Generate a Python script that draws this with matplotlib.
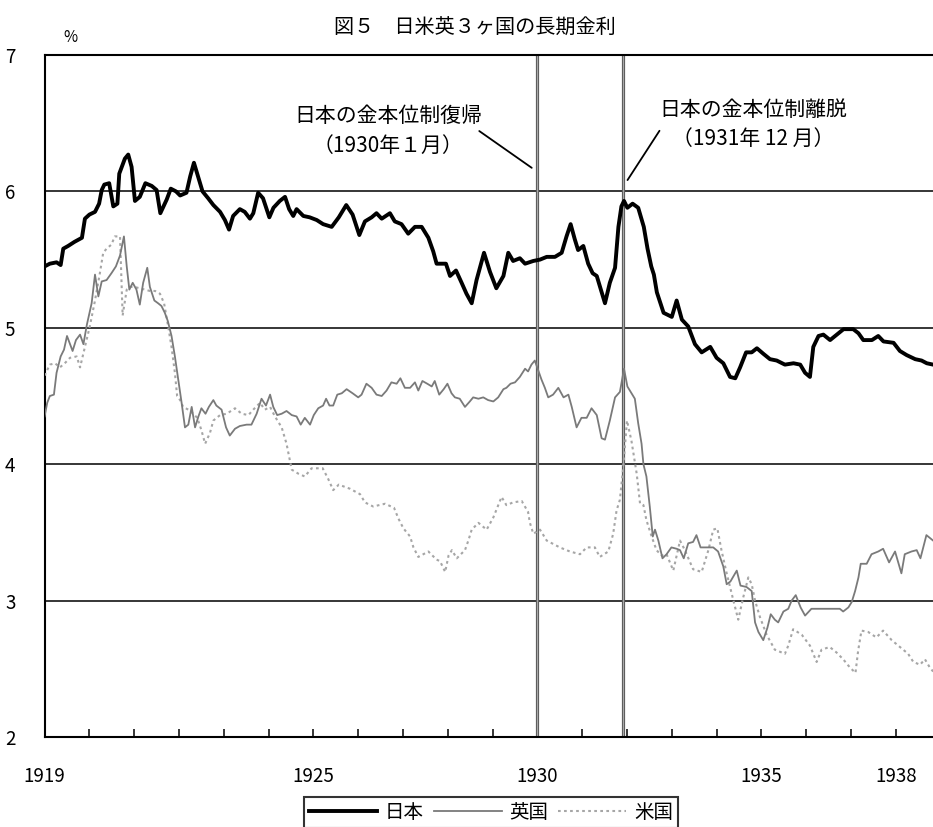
import matplotlib
matplotlib.use("Agg")
import matplotlib.pyplot as plt
import numpy as np

plt.rcParams["font.family"] = ["Noto Sans CJK JP", "DejaVu Sans"]

# months counted from Jan 1919
jp_month = [0, 1.4, 3.2, 4.3, 5.0, 6.3, 8, 10, 10.8, 12, 13.5, 14.6, 15.3, 16, 17.3,
            18.4, 19.5, 20, 21.5, 22.4, 23.3, 24.2, 25.5, 27, 28.7, 30, 31, 32.7, 33.8,
            35.2, 36.3, 38, 39, 40, 41.2, 42.3, 43.8, 45.2, 47, 48.3, 49.4, 50.5, 52.3,
            53.6, 55, 55.9, 57.2, 58.5, 60.2, 61.3, 63, 64.4, 65.5, 66.6, 67.5, 69.3,
            71, 72.9, 74.6, 76.9, 78.8, 80.8, 82.5, 84.3, 85.8, 87.6, 88.9, 90.3, 92.5,
            93.8, 95.6, 97.4, 99.2, 101, 102.8, 104.1, 105, 107.5, 108.6, 110.2, 111.7,
            113, 114.4, 115.7, 117.7, 119.3, 121, 122.9, 124.2, 125.5, 127.3, 128.7,
            130.9, 132.7, 134.5, 136.7, 138.5, 139.8, 140.9, 142, 142.9, 144.3, 145.6,
            146.8, 147.9, 149, 150.1, 151.4, 152.8, 153.7, 154.5, 155.2, 156.1, 157.5,
            159, 160.5, 161.5, 162.5, 163.2, 164, 165.8, 168, 169.3, 170.7, 172.4,
            174.2, 176, 178.3, 180, 181.8, 183.6, 185, 186.3, 187.9, 189.4, 190.8,
            192.5, 194.3, 196.1, 198.3, 200.6, 202.4, 203.7, 205, 205.9, 207.3, 208.6,
            210.4, 212.2, 214, 216.6, 218, 219.3, 221.6, 223.3, 224.7, 227.4, 229.1,
            230.9, 233.2, 234.9, 236.3, 238]
jp_rate = [5.45, 5.47, 5.48, 5.46, 5.58, 5.60, 5.63, 5.66, 5.80, 5.83, 5.85, 5.91, 6.01,
           6.05, 6.06, 5.89, 5.91, 6.13, 6.24, 6.27, 6.18, 5.93, 5.96, 6.06, 6.04, 6.01,
           5.84, 5.94, 6.02, 6.00, 5.97, 5.99, 6.11, 6.21, 6.10, 6.00, 5.95, 5.90, 5.85,
           5.79, 5.72, 5.82, 5.87, 5.85, 5.80, 5.84, 5.99, 5.95, 5.81, 5.88, 5.93, 5.96,
           5.87, 5.82, 5.87, 5.82, 5.81, 5.79, 5.76, 5.74, 5.81, 5.90, 5.83, 5.68, 5.78,
           5.81, 5.84, 5.80, 5.84, 5.78, 5.76, 5.69, 5.74, 5.74, 5.66, 5.56, 5.47, 5.47,
           5.38, 5.42, 5.33, 5.25, 5.18, 5.35, 5.55, 5.41, 5.29, 5.38, 5.55, 5.49, 5.51,
           5.47, 5.49, 5.50, 5.52, 5.52, 5.55, 5.67, 5.76, 5.65, 5.57, 5.60, 5.47, 5.40,
           5.38, 5.28, 5.18, 5.33, 5.44, 5.74, 5.89, 5.93, 5.88, 5.91, 5.88, 5.74, 5.58,
           5.45, 5.39, 5.26, 5.11, 5.08, 5.20, 5.06, 5.01, 4.88, 4.82, 4.86, 4.78, 4.74,
           4.64, 4.63, 4.71, 4.82, 4.82, 4.85, 4.81, 4.77, 4.76, 4.73, 4.74, 4.73, 4.67,
           4.64, 4.86, 4.94, 4.95, 4.91, 4.95, 4.99, 4.99, 4.96, 4.91, 4.91, 4.94, 4.90,
           4.89, 4.83, 4.80, 4.77, 4.76, 4.74, 4.73]

uk_month = [0, 0.7, 1.4, 2.5, 3.2, 4.3, 5.2, 6, 7.5, 8.4, 9.5, 10.4, 11.3, 12.6, 13.5,
            14.4, 15.3, 16.6, 17.9, 19.1, 20.2, 21.25, 22, 22.7, 23.6, 24.6, 25.5, 26.4,
            27.5, 28.2, 29.4, 30.4, 31.3, 32.2, 33, 34, 34.9, 35.8, 36.7, 37.6, 38.5,
            39.4, 40.3, 41.2, 42, 43.1, 44, 45.2, 46, 47.4, 48.6, 49.6, 51, 52.3, 54.1,
            55.4, 56.8, 58.1, 59.3, 60.4, 61.25, 62.3, 63.5, 64.8, 66.2, 67.5, 68.6,
            69.7, 71.1, 72.1, 73.3, 74.6, 75.4, 76.3, 77.3, 78.4, 79.6, 80.9, 82.5, 84,
            84.9, 86.2, 87.6, 88.9, 90.3, 91.6, 92.9, 94.3, 95.3, 96.5, 97.9, 99.2,
            100.1, 101.2, 102.5, 103.7, 104.5, 105.7, 106.9, 107.9, 109, 109.9, 111.2,
            112.6, 113.9, 114.8, 116.2, 117.5, 118.8, 120.2, 121.5, 122.9, 123.7, 124.8,
            126, 127.3, 128.7, 129.5, 130.4, 131.3, 132.2, 133.1, 134, 134.9, 136.2,
            137.6, 139, 140.3, 141.2, 142.5, 143.8, 145.2, 146.5, 147.9, 149.2, 150.1,
            151.4, 152.8, 154.1, 155.2, 156.1, 157.2, 158.1, 159, 159.9, 160.4, 161.2,
            162.1, 162.9, 163.5, 164.4, 165.5, 166.6, 167.9, 169.3, 170.2, 171.2, 172.4,
            173.7, 174.6, 175.7, 177.3, 179.1, 180.4, 181.8, 182.7, 183.7, 185.4, 186.4,
            188, 189.4, 190.3, 191.2, 192.5, 193.6, 194.5, 195.6, 196.5, 197.9, 199.2,
            200.1, 201.2, 202.5, 203.7, 205.4, 207.7, 210.3, 213, 213.9, 215.3, 216.2,
            217.1, 218, 218.6, 220.2, 221.5, 223.3, 224.6, 226.2, 227.8, 229.5, 230.4,
            232.2, 233.6, 234.6, 236.2, 238]
uk_rate = [4.35, 4.45, 4.50, 4.51, 4.67, 4.79, 4.84, 4.94, 4.83, 4.91, 4.95, 4.88, 5.02,
           5.18, 5.39, 5.23, 5.34, 5.35, 5.40, 5.45, 5.53, 5.67, 5.45, 5.28, 5.33, 5.28,
           5.17, 5.33, 5.44, 5.30, 5.20, 5.18, 5.16, 5.11, 5.05, 4.94, 4.79, 4.62, 4.45,
           4.27, 4.29, 4.42, 4.27, 4.35, 4.41, 4.37, 4.42, 4.47, 4.43, 4.40, 4.27, 4.21,
           4.26, 4.28, 4.29, 4.29, 4.37, 4.48, 4.43, 4.51, 4.42, 4.36, 4.37, 4.39, 4.36,
           4.35, 4.29, 4.34, 4.29, 4.36, 4.41, 4.43, 4.48, 4.43, 4.43, 4.51, 4.52, 4.55,
           4.52, 4.49, 4.51, 4.59, 4.56, 4.51, 4.50, 4.54, 4.60, 4.59, 4.63, 4.56, 4.56,
           4.60, 4.54, 4.61, 4.59, 4.57, 4.61, 4.51, 4.55, 4.59, 4.52, 4.49, 4.48, 4.42,
           4.46, 4.49, 4.48, 4.49, 4.47, 4.46, 4.49, 4.55, 4.56, 4.59, 4.60, 4.64, 4.70,
           4.68, 4.73, 4.76, 4.69, 4.62, 4.56, 4.49, 4.51, 4.56, 4.49, 4.51, 4.42, 4.27,
           4.34, 4.34, 4.41, 4.36, 4.19, 4.18, 4.32, 4.49, 4.53, 4.70, 4.57, 4.52, 4.48,
           4.30, 4.15, 4.00, 3.91, 3.69, 3.47, 3.52, 3.44, 3.31, 3.34, 3.39, 3.38, 3.37,
           3.31, 3.42, 3.43, 3.48, 3.39, 3.39, 3.39, 3.36, 3.25, 3.12, 3.14, 3.22, 3.11,
           3.10, 3.07, 2.84, 2.77, 2.71, 2.80, 2.90, 2.86, 2.84, 2.92, 2.94, 3.00, 3.04,
           2.95, 2.89, 2.94, 2.94, 2.94, 2.94, 2.92, 2.95, 2.99, 3.07, 3.17, 3.27, 3.27,
           3.34, 3.36, 3.38, 3.28, 3.36, 3.20, 3.34, 3.36, 3.37, 3.31, 3.48, 3.44]

us_month = [0, 1.4, 2.8, 4.1, 5.4, 6.8, 8.6, 9.5, 10.8, 12.1, 13.5, 14.8, 15.7, 16.6,
            17.9, 18.8, 20.2, 20.9, 22, 22.9, 23.9, 25.5, 26.9, 28.2, 29.6, 30.9, 32,
            33.1, 34, 34.9, 35.5, 36.3, 37.1, 38.5, 39.8, 40.9, 42, 43, 44.3, 45.2, 47,
            48.8, 51, 52.8, 54.6, 55.9, 57.7, 59, 60.4, 61.7, 63.5, 64.8, 65.7, 66.2,
            68, 69.7, 71.5, 74.5, 76, 77.3, 78.8, 81.8, 84.5, 85.8, 88, 91.2, 93.6,
            94.8, 96.1, 97.9, 98.8, 100.1, 102.8, 105, 105.9, 107.3, 108.2, 109.1,
            110.4, 112.6, 113.5, 114.4, 116.2, 118.4, 120.2, 122.4, 123.7, 125.5, 127.8,
            129.5, 130, 130.9, 132.7, 134.5, 138, 140.7, 143.4, 145.2, 147.4, 148.7,
            151, 152.3, 153.2, 154.1, 155, 156, 157.2, 158.6, 159.5, 160.4, 161.2,
            162.6, 163.9, 165.3, 166.6, 168.4, 170.2, 171.5, 173.7, 176, 177.8, 179.1,
            180.2, 181.3, 182.7, 184.5, 185.8, 187.1, 188.5, 189.4, 190.3, 191.6, 193.4,
            195.6, 198.3, 199.2, 200.5, 202.8, 205, 206.8, 208.1, 210.3, 212.1, 213.9,
            215.7, 217.2, 217.9, 218.8, 220.6, 222.8, 224.6, 226.9, 229.1, 231.3, 232.7,
            234.5, 235.8, 237.1, 238]
us_rate = [4.65, 4.73, 4.74, 4.71, 4.74, 4.78, 4.79, 4.71, 4.86, 5.01, 5.20, 5.40, 5.55,
           5.58, 5.61, 5.67, 5.67, 5.09, 5.28, 5.30, 5.30, 5.29, 5.28, 5.27, 5.27, 5.25,
           5.18, 5.01, 4.86, 4.67, 4.50, 4.47, 4.42, 4.40, 4.37, 4.34, 4.25, 4.15, 4.23,
           4.32, 4.36, 4.37, 4.41, 4.37, 4.36, 4.40, 4.45, 4.40, 4.42, 4.35, 4.27, 4.15,
           4.03, 3.96, 3.93, 3.91, 3.97, 3.97, 3.89, 3.81, 3.85, 3.82, 3.78, 3.72, 3.69,
           3.71, 3.68, 3.60, 3.53, 3.47, 3.39, 3.32, 3.36, 3.30, 3.29, 3.21, 3.33, 3.37,
           3.31, 3.37, 3.44, 3.52, 3.57, 3.52, 3.61, 3.76, 3.70, 3.72, 3.73, 3.65, 3.57,
           3.49, 3.52, 3.44, 3.39, 3.36, 3.34, 3.39, 3.39, 3.32, 3.36, 3.49, 3.66, 3.74,
           3.98, 4.32, 4.17, 3.93, 3.71, 3.70, 3.59, 3.47, 3.37, 3.33, 3.34, 3.22, 3.44,
           3.37, 3.23, 3.21, 3.37, 3.52, 3.53, 3.37, 3.20, 3.00, 2.86, 3.02, 3.17, 3.12,
           3.00, 2.88, 2.75, 2.64, 2.61, 2.67, 2.79, 2.75, 2.67, 2.55, 2.64, 2.66, 2.62,
           2.57, 2.51, 2.47, 2.63, 2.78, 2.77, 2.73, 2.78, 2.71, 2.66, 2.61, 2.55, 2.53,
           2.57, 2.51, 2.48]

event_dates = [1930.0, 1931 + 11 / 12]
year_ticks = list(range(1919, 1939))
labelled_years = [1919, 1925, 1930, 1935, 1938]


def to_year(months):
    return 1919 + np.array(months) / 12


W, H = 933, 827
fig = plt.figure(figsize=(W / 100, H / 100), dpi=100)
x0, y_bottom, y_top = 44.6, 737, 55
ax = fig.add_axes([x0 / W, (H - y_bottom) / H, (W - x0) / W, (y_bottom - y_top) / H])

ax.plot(to_year(us_month), us_rate, color="#a6a6a6", lw=1.5,
        linestyle=(0, (1.3, 1.6)), label="米国", zorder=3)
ax.plot(to_year(uk_month), uk_rate, color="#7a7a7a", lw=1.3, label="英国", zorder=4)
ax.plot(to_year(jp_month), jp_rate, color="black", lw=2.8, label="日本", zorder=5)

# event lines: grey bar with darker edges
for d in event_dates:
    ax.axvline(d, color="#5a5a5a", lw=2.3, zorder=2)
    ax.axvline(d, color="#a8a8a8", lw=0.8, zorder=2)

ax.set_xlim(1919, 1919 + (W - x0) / 44.8)
ax.set_ylim(2, 7)
ax.set_yticks(range(2, 8))
ax.yaxis.grid(True, color="black", lw=1.1)
ax.set_xticks(year_ticks)
ax.set_xticklabels([str(y) if y in labelled_years else "" for y in year_ticks])
ax.tick_params(axis="x", direction="in", length=6, width=1.1, pad=21, labelsize=13.5)
ax.tick_params(axis="y", length=0, pad=21, labelsize=13.5)
for s in ["left", "bottom", "top"]:
    ax.spines[s].set_linewidth(1.5)
ax.spines["right"].set_visible(False)

fig.text(475 / W, 1 - 28 / H, "図５　日米英３ヶ国の長期金利", ha="center", va="center",
         fontsize=14.5)
fig.text(70 / W, 1 - 38 / H, "%", ha="center", va="center", fontsize=11)

fig.text(388 / W, 1 - 116 / H, "日本の金本位制復帰", ha="center", va="center", fontsize=15)
fig.text(388 / W, 1 - 146 / H, "（1930年１月）", ha="center", va="center", fontsize=15)
fig.text(753 / W, 1 - 110 / H, "日本の金本位制離脱", ha="center", va="center", fontsize=15)
fig.text(753 / W, 1 - 139 / H, "（1931年 12 月）", ha="center", va="center", fontsize=15)


def px(x, y):
    return 1919 + (x - x0) / 44.8, 2 + (y_bottom - y) / 136.5


ax.annotate("", xy=px(534, 169), xytext=px(477, 129),
            arrowprops=dict(arrowstyle="-", color="black", lw=1.3))
ax.annotate("", xy=px(626, 182), xytext=px(661, 128),
            arrowprops=dict(arrowstyle="-", color="black", lw=1.3))

handles, labels = ax.get_legend_handles_labels()
order = [2, 1, 0]
leg = fig.legend([handles[i] for i in order], [labels[i] for i in order],
                 loc="upper center", bbox_to_anchor=(491 / W, 1 - 797 / H), ncol=3,
                 frameon=True, fancybox=False, edgecolor="black", fontsize=14,
                 handlelength=3.5, handletextpad=0.4, columnspacing=0.5, borderpad=0.25,
                 borderaxespad=0)
leg.get_frame().set_linewidth(1.5)

fig.savefig("out.png", dpi=100)
